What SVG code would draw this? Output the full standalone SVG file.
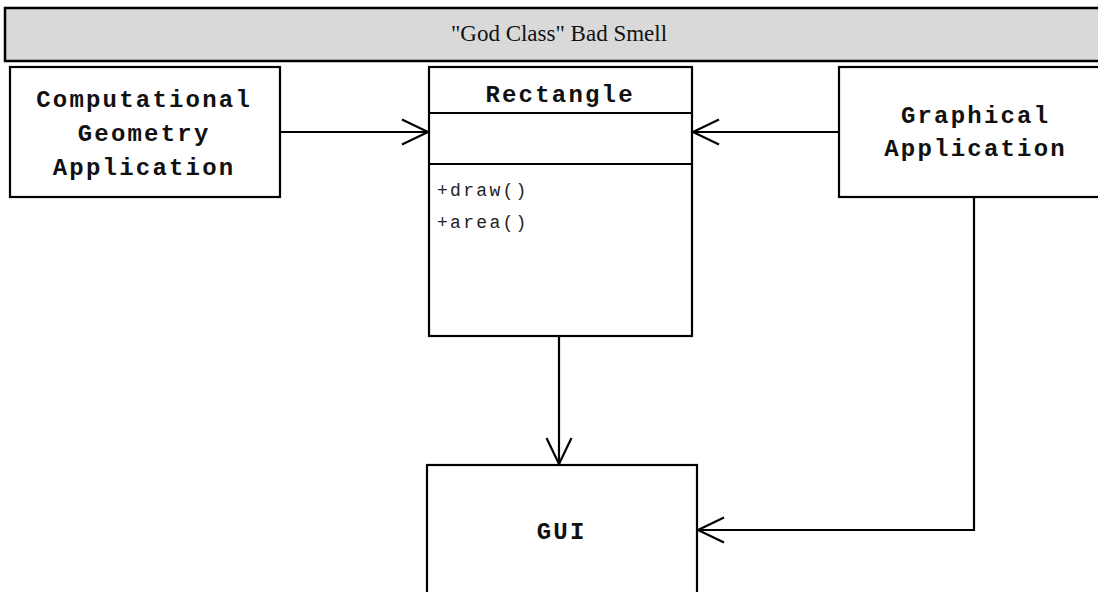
<svg xmlns="http://www.w3.org/2000/svg" width="1098" height="592" viewBox="0 0 1098 592">
<style>
.box{fill:#fff;stroke:#000;stroke-width:2.2}
.hdr{fill:#d9d9d9;stroke:#000;stroke-width:2.5}
.t{font-family:"Liberation Mono","Courier New",monospace;font-weight:bold;font-size:24px;letter-spacing:2.2px;text-anchor:middle;fill:#111}
.m{font-family:"Liberation Mono","Courier New",monospace;font-size:18px;letter-spacing:2.3px;fill:#222}
.h{font-family:"Liberation Serif","Times New Roman",serif;font-size:23px;text-anchor:middle;fill:#111}
.c{fill:none;stroke:#000;stroke-width:2.2}
</style>
<defs>
<marker id="arr" markerUnits="userSpaceOnUse" markerWidth="40" markerHeight="40" refX="0" refY="0" viewBox="-30 -20 40 40" orient="auto" overflow="visible">
<path d="M -26 -12.5 L 0 0 L -26 12.5" fill="none" stroke="#000" stroke-width="2.2"/>
</marker>
</defs>
<g id="header">
<rect class="hdr" x="5" y="8" width="1100" height="53"/>
<text class="h" x="559" y="41">"God Class" Bad Smell</text>
</g>
<g id="computational">
<rect class="box" x="10" y="67" width="270" height="130"/>
<text class="t" x="144.1" y="107">Computational</text>
<text class="t" x="144.1" y="141">Geometry</text>
<text class="t" x="144.1" y="175">Application</text>
</g>
<g id="rectangle">
<rect class="box" x="429" y="67" width="263" height="269"/>
<line class="c" x1="429" y1="113" x2="692" y2="113"/>
<line class="c" x1="429" y1="164" x2="692" y2="164"/>
<text class="t" x="560.1" y="102">Rectangle</text>
<text class="m" x="437" y="196">+draw()</text>
<text class="m" x="437" y="228">+area()</text>
</g>
<g id="graphical">
<rect class="box" x="839" y="67" width="272" height="130"/>
<text class="t" x="975.6" y="123">Graphical</text>
<text class="t" x="975.6" y="156">Application</text>
</g>
<g id="gui">
<rect class="box" x="427" y="465" width="270" height="200"/>
<text class="t" x="561.6" y="539">GUI</text>
</g>
<g id="connectors">
<path class="c" d="M 280 132 L 428 132" marker-end="url(#arr)"/>
<path class="c" d="M 839 132 L 693 132" marker-end="url(#arr)"/>
<path class="c" d="M 559 336 L 559 464" marker-end="url(#arr)"/>
<path class="c" d="M 974 197 L 974 530 L 698 530" marker-end="url(#arr)"/>
</g>
</svg>
